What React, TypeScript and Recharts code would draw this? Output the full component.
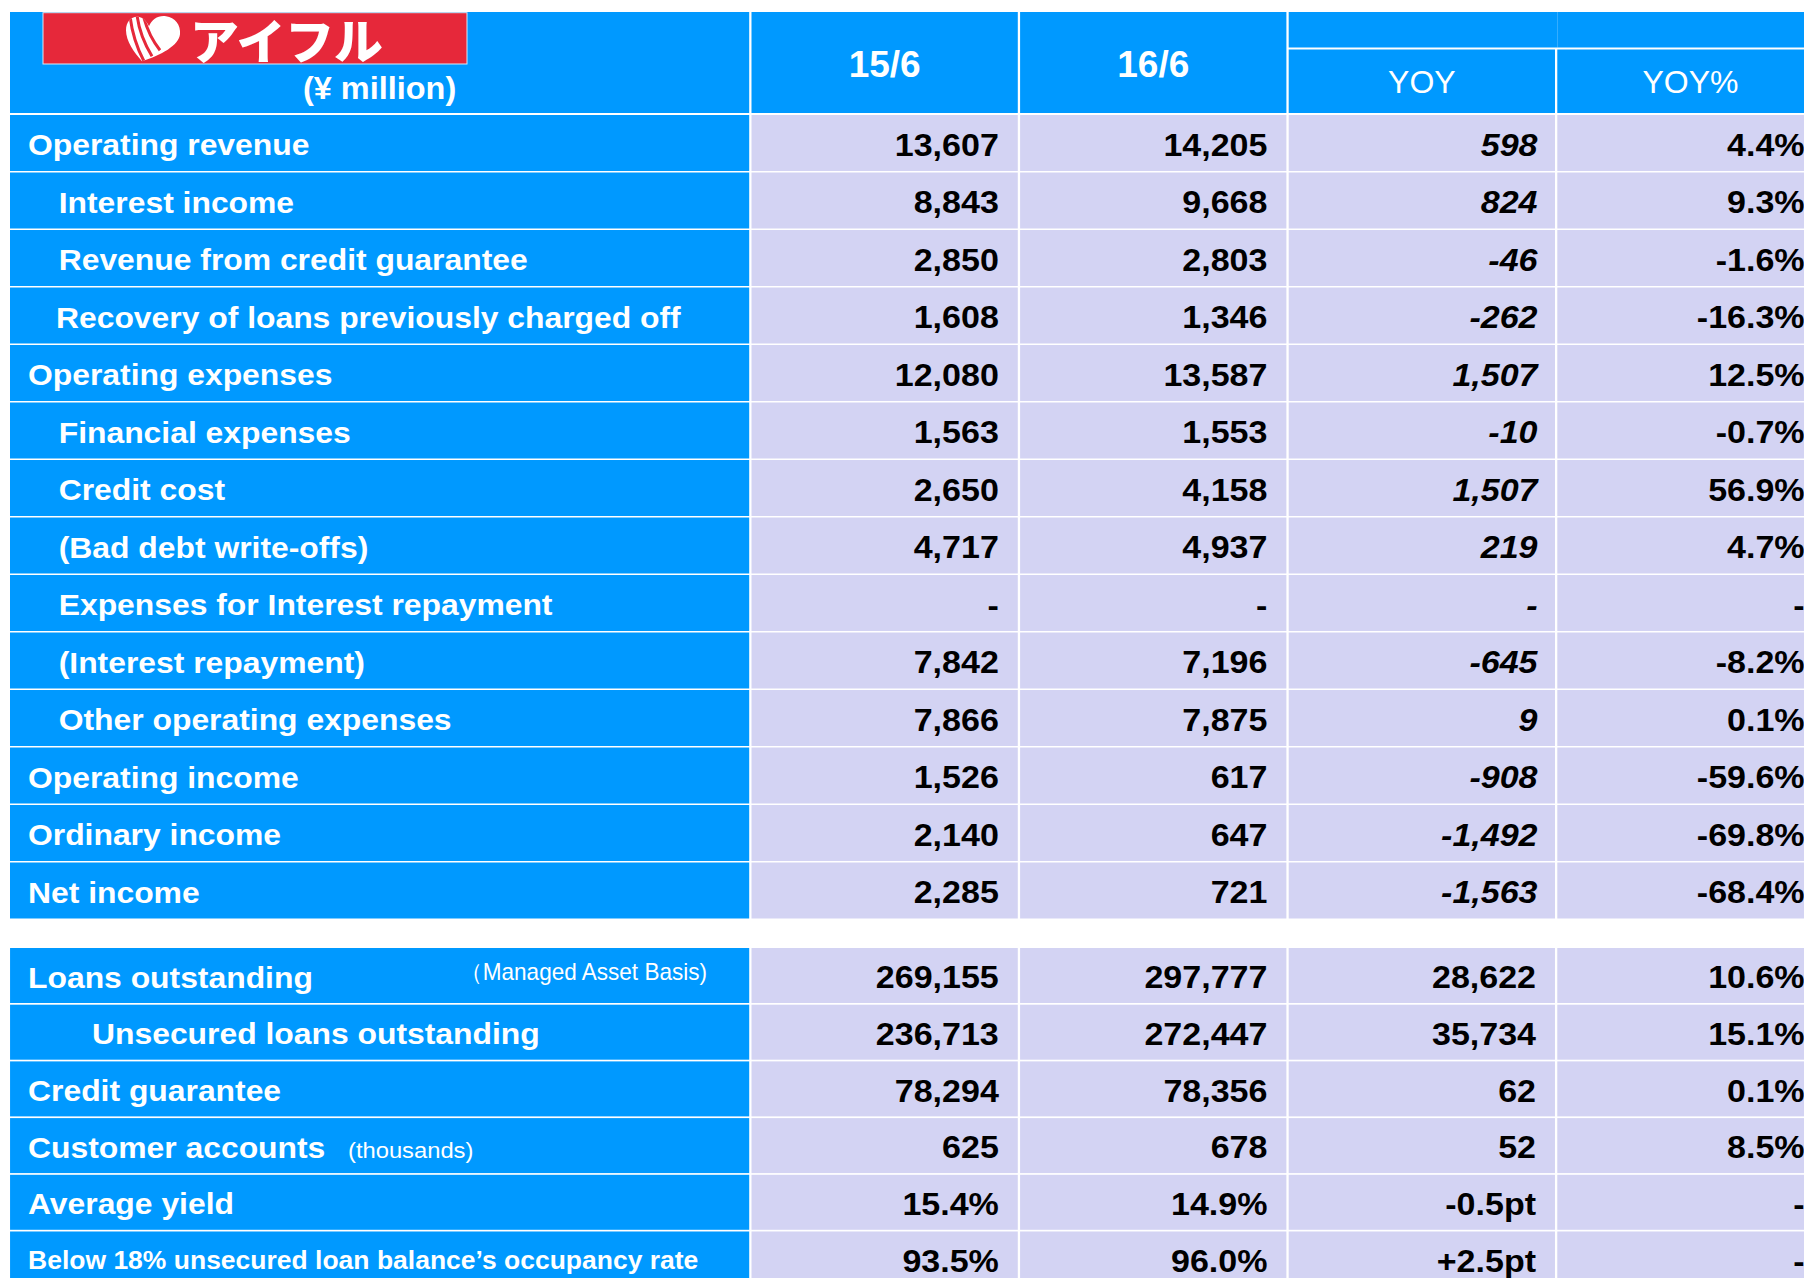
import { BarChart, Bar, XAxis, YAxis } from 'recharts'

// ---- values ----
const BRAND = 'アイフル'
const UNIT = '(¥ million)'
const PERIODS = ['15/6', '16/6']
const CHANGE_COLS = ['YOY', 'YOY%']

const PL_ITEMS = [
  'Operating revenue',
  'Interest income',
  'Revenue from credit guarantee',
  'Recovery of loans previously charged off',
  'Operating expenses',
  'Financial expenses',
  'Credit cost',
  '(Bad debt write-offs)',
  'Expenses for Interest repayment',
  '(Interest repayment)',
  'Other operating expenses',
  'Operating income',
  'Ordinary income',
  'Net income',
]
const PL_1506 = [13607, 8843, 2850, 1608, 12080, 1563, 2650, 4717, null, 7842, 7866, 1526, 2140, 2285]
const PL_1606 = [14205, 9668, 2803, 1346, 13587, 1553, 4158, 4937, null, 7196, 7875, 617, 647, 721]
const PL_YOY = [598, 824, -46, -262, 1507, -10, 1507, 219, null, -645, 9, -908, -1492, -1563]
const PL_YOY_PCT = [4.4, 9.3, -1.6, -16.3, 12.5, -0.7, 56.9, 4.7, null, -8.2, 0.1, -59.6, -69.8, -68.4]

const KPI_ITEMS = [
  'Loans outstanding',
  'Unsecured loans outstanding',
  'Credit guarantee',
  'Customer accounts',
  'Average yield',
  'Below 18% unsecured loan balance’s occupancy rate',
]
const KPI_NOTES = ['（Managed Asset Basis)', '', '', '(thousands)', '', '']
const KPI_UNITS = ['count', 'count', 'count', 'count', 'rate', 'rate']
const KPI_1506 = [269155, 236713, 78294, 625, 15.4, 93.5]
const KPI_1606 = [297777, 272447, 78356, 678, 14.9, 96.0]
const KPI_YOY = [28622, 35734, 62, 52, -0.5, 2.5]
const KPI_YOY_PCT = [10.6, 15.1, 0.1, 8.5, null, null]

// ---- look & layout ----
const BLUE = '#0099FF'
const LAVENDER = '#D3D3F3'
const RED = '#E6283A'
const FONT = '"Liberation Sans", Arial, Helvetica, sans-serif'
const JP_FONT = '"Noto Sans CJK JP", "Noto Sans CJK SC", sans-serif'

const LEFT = 10
const COL_W = [741.5, 268.6, 268.6, 268.6, 268.6]
const TOTAL = COL_W.reduce((a, b) => a + b, 0)
const GAP_X = 2.3
const GAP_Y = 2
const PAD_R = 19

const HEAD_TOP = 12
const HEAD_H = 102.5
const STRIP_H = 35.5
const PL_TOP = 114.5
const PL_PITCH = 57.5
const KPI_TOP = 947.7
const KPI_PITCH = 56.7

const LABEL_FS = 29.5
const NUM_FS = 31.5
const SX = 1.08

const INDENT: Record<string, number> = {
  'Interest income': 48.7,
  'Revenue from credit guarantee': 48.7,
  'Recovery of loans previously charged off': 46,
  'Financial expenses': 48.7,
  'Credit cost': 48.7,
  '(Bad debt write-offs)': 48.7,
  'Expenses for Interest repayment': 48.7,
  '(Interest repayment)': 48.7,
  'Other operating expenses': 48.7,
  'Unsecured loans outstanding': 82,
}
const LABEL_SIZE: Record<string, [number, number]> = {
  'Below 18% unsecured loan balance’s occupancy rate': [25, 1.06],
}
// note offsets from the label cell's left/baseline
const NOTE_POS: Record<string, { dx: number; dy: number; sx: number; fs: number }> = {
  '（Managed Asset Basis)': { dx: 450, dy: -8, sx: 0.98, fs: 23 },
  '(thousands)': { dx: 338, dy: 0, sx: 1.08, fs: 22 },
}

const fmtNum = (v: number | null) => (v == null ? '-' : v.toLocaleString('en-US'))
const fmtPct = (v: number | null) => (v == null ? '-' : `${v.toFixed(1)}%`)
const fmtPt = (v: number | null) => (v == null ? '-' : `${v > 0 ? '+' : ''}${v.toFixed(1)}pt`)

type Row = { item: string; note?: string; cells: string[] }

const PL_ROWS: Row[] = PL_ITEMS.map((item, i) => ({
  item,
  cells: [item, fmtNum(PL_1506[i]), fmtNum(PL_1606[i]), fmtNum(PL_YOY[i]), fmtPct(PL_YOY_PCT[i])],
}))

const KPI_ROWS: Row[] = KPI_ITEMS.map((item, i) => {
  const rate = KPI_UNITS[i] === 'rate'
  return {
    item,
    note: KPI_NOTES[i],
    cells: [
      item,
      rate ? fmtPct(KPI_1506[i]) : fmtNum(KPI_1506[i]),
      rate ? fmtPct(KPI_1606[i]) : fmtNum(KPI_1606[i]),
      rate ? fmtPt(KPI_YOY[i]) : fmtNum(KPI_YOY[i]),
      fmtPct(KPI_YOY_PCT[i]),
    ],
  }
})

function SText({ x, y, size, anchor = 'start', sx = 1, weight = 700, italic = false, fill = '#000', children }: any) {
  return (
    <text
      transform={`translate(${x} ${y}) scale(${sx} 1)`}
      textAnchor={anchor}
      fontSize={size}
      fontWeight={weight}
      fontStyle={italic ? 'italic' : 'normal'}
      fill={fill}
      fontFamily={FONT}
    >
      {children}
    </text>
  )
}

const HEART = 'M17,46 C9,37 1,26 1,15 C1,5 8,0 15,2 C19,3 22,7 24,11 C27,4 33,0 41,1 C50,2 56,10 55,19 C54,30 36,40 17,46 Z'

function Logo({ x, y }: { x: number; y: number }) {
  return (
    <g transform={`translate(${x} ${y})`}>
      <rect x={0} y={0} width={424} height={51.3} fill={RED} stroke="#d6e9f7" strokeWidth={1} />
      <defs>
        <clipPath id="heartClip">
          <path d={HEART} />
        </clipPath>
      </defs>
      <g transform="translate(82 2.5)">
        <path d={HEART} fill="#fff" />
        <g clipPath="url(#heartClip)" stroke={RED} strokeWidth={3} fill="none">
          <path d="M5,1 C7,17 11,31 19,46" />
          <path d="M12,0 C14,15 19,28 27,41" />
          <path d="M19,3 C22,14 27,25 35,35" />
        </g>
      </g>
      <text
        x={147}
        y={46}
        fontSize={48}
        fontWeight={900}
        fill="#fff"
        fontFamily={JP_FONT}
        textLength={193}
        lengthAdjust="spacingAndGlyphs"
      >
        {BRAND}
      </text>
    </g>
  )
}

function HeaderCell(p: any) {
  const { x, y, width, height, col } = p
  const w = width - GAP_X
  const h = height - GAP_Y
  if (col === 0) {
    return (
      <g>
        <rect x={x} y={y} width={w} height={h} fill={BLUE} />
        <Logo x={x + 33} y={y + 0.7} />
        <SText x={x + w / 2} y={y + 87} size={31.5} sx={1.03} anchor="middle" fill="#fff">
          {UNIT}
        </SText>
      </g>
    )
  }
  if (col <= 2) {
    return (
      <g>
        <rect x={x} y={y} width={w} height={h} fill={BLUE} />
        <SText x={x + w / 2} y={y + 65} size={37} anchor="middle" fill="#fff">
          {PERIODS[col - 1]}
        </SText>
      </g>
    )
  }
  return (
    <g>
      <rect x={x} y={y} width={width} height={STRIP_H} fill={BLUE} />
      <rect x={x} y={y + STRIP_H + 2} width={w} height={h - STRIP_H - 2} fill={BLUE} />
      <SText x={x + w / 2} y={y + 80.8} size={32} weight={400} anchor="middle" fill="#fff">
        {CHANGE_COLS[col - 3]}
      </SText>
    </g>
  )
}

function BodyCell(p: any) {
  const { x, y, width, height, col, payload, italicCol } = p
  const row = payload as Row
  const w = width - GAP_X
  const h = height - GAP_Y
  const cy = y + h / 2 + 1.5
  if (col === 0) {
    const [fs, sx] = LABEL_SIZE[row.item] ?? [LABEL_FS, SX]
    const base = cy + 0.358 * fs
    const note = row.note ? NOTE_POS[row.note] : null
    return (
      <g>
        <rect x={x} y={y} width={w} height={h} fill={BLUE} />
        <SText x={x + (INDENT[row.item] ?? 18)} y={base} size={fs} sx={sx} fill="#fff">
          {row.cells[0]}
        </SText>
        {note && (
          <SText x={x + note.dx} y={cy + 0.358 * LABEL_FS + note.dy} size={note.fs} sx={note.sx} weight={400} fill="#fff">
            {row.note}
          </SText>
        )}
      </g>
    )
  }
  const italic = col === italicCol
  return (
    <g>
      <rect x={x} y={y} width={w} height={h} fill={LAVENDER} />
      <SText
        x={x + w - (italic ? PAD_R - 1.5 : PAD_R)}
        y={cy + 0.358 * NUM_FS}
        size={NUM_FS}
        sx={SX}
        italic={italic}
        anchor="end"
      >
        {row.cells[col]}
      </SText>
    </g>
  )
}

function Grid({ rows, top, height, cell, italicCol, padTop = 0 }: { rows: any[]; top: number; height: number; cell: any; italicCol?: number; padTop?: number }) {
  return (
    <div style={{ position: 'absolute', left: 0, top: top - padTop }}>
      <BarChart
        width={LEFT + TOTAL}
        height={height + padTop}
        data={rows}
        layout="vertical"
        margin={{ top: padTop, right: 0, bottom: 0, left: LEFT }}
        barCategoryGap={0}
        barGap={0}
      >
        <XAxis type="number" hide domain={[0, TOTAL]} allowDataOverflow />
        <YAxis type="category" dataKey="item" hide />
        {COL_W.map((w, i) => (
          <Bar
            key={i}
            dataKey={() => w}
            stackId="table"
            isAnimationActive={false}
            shape={(p: any) => cell({ ...p, col: i, italicCol })}
          />
        ))}
      </BarChart>
    </div>
  )
}

export default function App() {
  return (
    <div
      style={{
        position: 'fixed',
        left: 0,
        top: 0,
        width: 1804,
        height: 1278,
        overflow: 'hidden',
        background: '#fff',
      }}
    >
      <Grid rows={[{ item: 'header' }]} top={HEAD_TOP} height={HEAD_H} cell={HeaderCell} padTop={HEAD_TOP} />
      <Grid rows={PL_ROWS} top={PL_TOP} height={PL_ROWS.length * PL_PITCH} cell={BodyCell} italicCol={3} />
      <Grid rows={KPI_ROWS} top={KPI_TOP} height={KPI_ROWS.length * KPI_PITCH} cell={BodyCell} />
    </div>
  )
}
